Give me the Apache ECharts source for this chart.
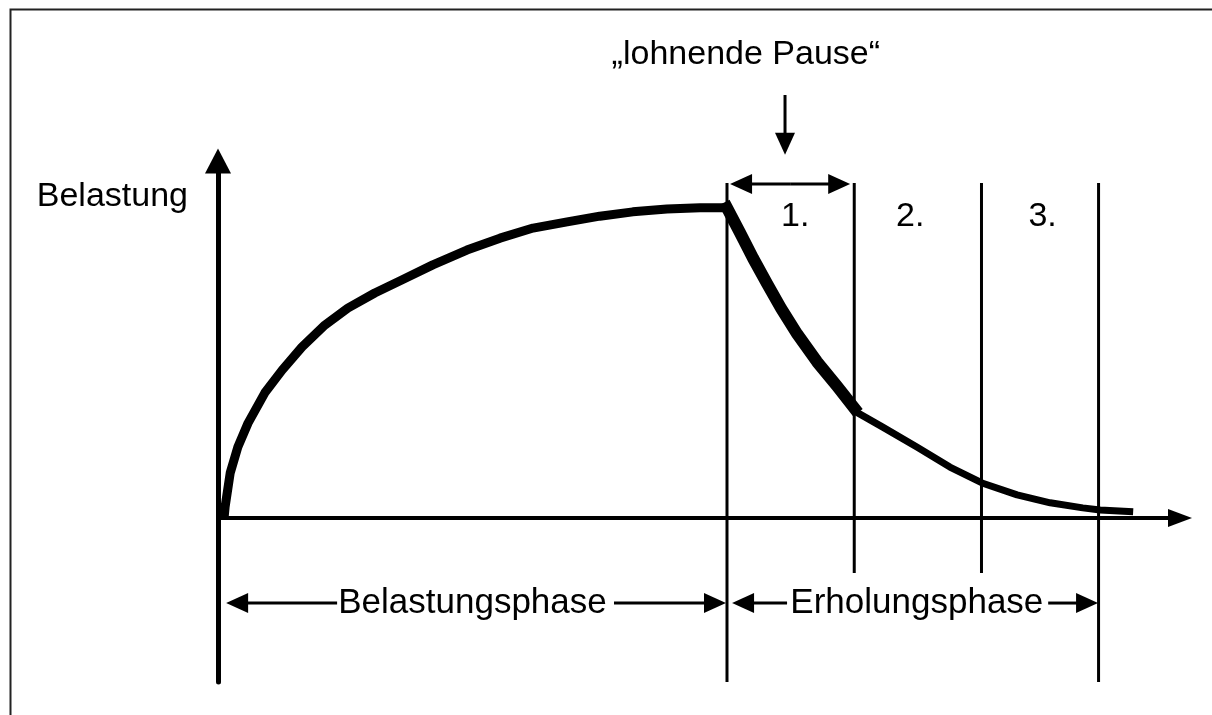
<!DOCTYPE html>
<html>
<head>
<meta charset="utf-8">
<script src="https://cdn.jsdelivr.net/npm/echarts@6/dist/echarts.min.js"></script>
<style>html,body{margin:0;padding:0;background:#fff}#main{width:1212px;height:715px}</style>
</head>
<body>
<div id="main"></div>
<script>
// Belastungsphase: Anstieg der Belastung
const riseX = [0.12, 0.14, 0.24, 0.39, 0.59, 0.92, 1.26, 1.65, 2.1, 2.55, 3.08, 3.61, 4.22, 4.89, 5.54, 6.19, 6.86, 7.5, 8.15, 8.82, 9.47, 10];
const riseY = [0, 0.31, 1.25, 1.97, 2.63, 3.47, 4.1, 4.74, 5.35, 5.82, 6.24, 6.6, 7.02, 7.43, 7.76, 8.04, 8.21, 8.37, 8.49, 8.57, 8.6, 8.6];
// 1. Abschnitt der Erholung ("lohnende Pause")
const fallX = [10, 10.26, 10.51, 10.79, 11.06, 11.38, 11.77, 12.16, 12.5];
const fallY = [8.6, 7.9, 7.21, 6.49, 5.82, 5.1, 4.33, 3.66, 3.05];
// 2. und 3. Abschnitt
const tailX = [12.5, 13.06, 13.73, 14.38, 15.01, 15.7, 16.35, 16.99, 17.33, 17.98];
const tailY = [2.97, 2.52, 1.97, 1.41, 0.97, 0.64, 0.42, 0.28, 0.22, 0.17];

// Phasengrenzen
const boundX = [10, 12.5, 15, 17.3];
const boundBottom = [-4.55, -1.53, -1.53, -4.55];
const boundTop = 9.29;

// Pfeile (Spitze am Endpunkt)
const arrowX1 = [11.14, 11.24, 11.24, 2.34, 7.78, 11.18, 16.31];
const arrowY1 = [11.73, 9.26, 9.26, -2.36, -2.36, -2.36, -2.36];
const arrowX2 = [11.14, 10.06, 12.42, 0.16, 9.98, 10.1, 17.29];
const arrowY2 = [10.07, 9.26, 9.26, -2.36, -2.36, -2.36, -2.36];

// Beschriftungen
const labelText = ['\u201Elohnende Pause\u201C', '1.', '2.', '3.', 'Belastungsphase', 'Erholungsphase'];
const labelX = [10.37, 11.34, 13.6, 16.2, 5.0, 13.73];
const labelY = [12.84, 8.35, 8.35, 8.35, -2.36, -2.36];

const font = '"Liberation Sans", Arial, sans-serif';
const zip = (xs, ys) => xs.map((x, i) => [x, ys[i]]);

const chart = echarts.init(document.getElementById('main'));

function renderArrow(params, api) {
  const a = api.coord([api.value(0), api.value(1)]);
  const b = api.coord([api.value(2), api.value(3)]);
  const dx = b[0] - a[0], dy = b[1] - a[1];
  const len = Math.sqrt(dx * dx + dy * dy);
  const ux = dx / len, uy = dy / len;
  const L = 22, W = 10;
  const bx = b[0] - ux * L, by = b[1] - uy * L;
  return {
    type: 'group',
    children: [
      { type: 'line', shape: { x1: a[0], y1: a[1], x2: bx + ux * 2, y2: by + uy * 2 }, style: { stroke: '#000', lineWidth: 3 } },
      { type: 'polygon', shape: { points: [[b[0], b[1]], [bx - uy * W, by + ux * W], [bx + uy * W, by - ux * W]] }, style: { fill: '#000' } }
    ]
  };
}

function renderBound(params, api) {
  const a = api.coord([api.value(0), api.value(1)]);
  const b = api.coord([api.value(0), api.value(2)]);
  return { type: 'line', shape: { x1: a[0], y1: a[1], x2: b[0], y2: b[1] }, style: { stroke: '#000', lineWidth: 3 } };
}

chart.setOption({
  animation: false,
  backgroundColor: '#fff',
  graphic: [{
    type: 'rect', left: 8, top: 7, z: -1,
    shape: { width: 1300, height: 800 },
    style: { fill: 'none', stroke: '#222', lineWidth: 2 }
  }],
  grid: { left: 218, right: 32, top: 161, bottom: 33 },
  xAxis: {
    type: 'value', min: 0, max: 18.9,
    axisLine: { onZero: true, symbol: ['none', 'triangle'], symbolSize: [18, 24], lineStyle: { color: '#000', width: 4 } },
    axisTick: { show: false }, axisLabel: { show: false }, splitLine: { show: false }
  },
  yAxis: {
    type: 'value', min: -4.55, max: 9.9,
    name: 'Belastung', nameLocation: 'end', nameGap: -36,
    nameTextStyle: { color: '#000', fontSize: 34, fontFamily: font, align: 'right', verticalAlign: 'middle', padding: [0, 30, 0, 0] },
    axisLine: { symbol: ['none', 'triangle'], symbolSize: [26, 25], lineStyle: { color: '#000', width: 5 } },
    axisTick: { show: false }, axisLabel: { show: false }, splitLine: { show: false }
  },
  series: [
    {
      type: 'custom', renderItem: renderBound, clip: false,
      encode: { x: 0, y: [1, 2] },
      data: boundX.map((x, i) => [x, boundBottom[i], boundTop])
    },
    {
      type: 'line', data: zip(riseX, riseY), smooth: false, symbol: 'none',
      lineStyle: { color: '#000', width: 9, join: 'round' }, z: 3
    },
    {
      type: 'line', data: zip(fallX, fallY), smooth: false, symbol: 'none',
      lineStyle: { color: '#000', width: 12, join: 'round', cap: 'square' }, z: 3
    },
    {
      type: 'line', data: zip(tailX, tailY), smooth: false, symbol: 'none',
      lineStyle: { color: '#000', width: 7, join: 'round' }, z: 3
    },
    {
      type: 'custom', renderItem: renderArrow, clip: false,
      encode: { x: [0, 2], y: [1, 3] },
      data: arrowX1.map((x, i) => [x, arrowY1[i], arrowX2[i], arrowY2[i]])
    },
    {
      type: 'scatter', symbolSize: 0, clip: false,
      itemStyle: { opacity: 1 },
      data: labelText.map((t, i) => ({
        name: t, value: [labelX[i], labelY[i]],
        label: { fontSize: i >= 4 ? 35 : 34 }
      })),
      label: {
        show: true, position: 'inside', formatter: '{b}', color: '#000', opacity: 1,
        fontSize: 34, fontFamily: font, align: 'center', verticalAlign: 'middle'
      }
    }
  ]
});
</script>
</body>
</html>
